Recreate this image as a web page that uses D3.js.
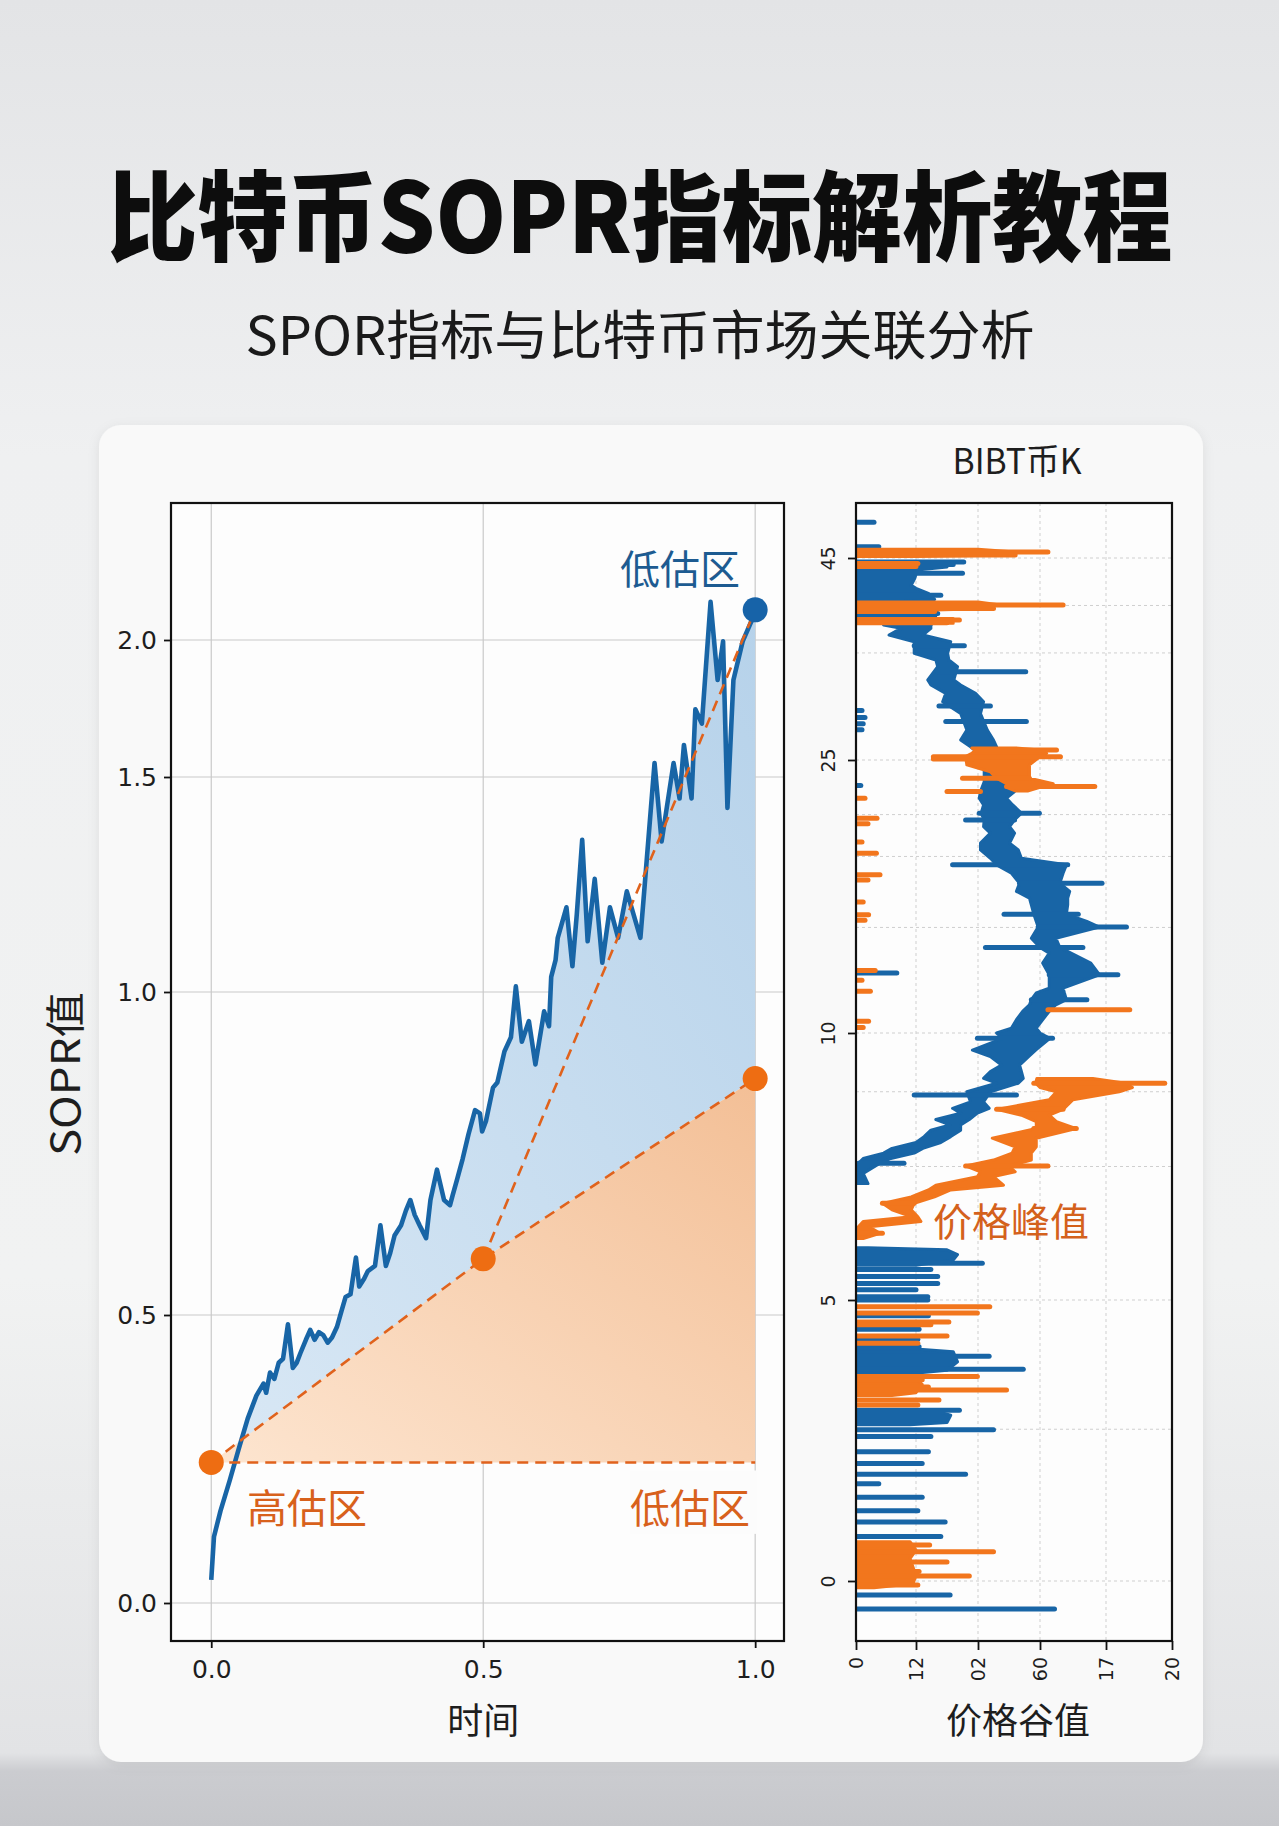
<!DOCTYPE html>
<html>
<head>
<meta charset="utf-8">
<script src="https://cdn.jsdelivr.net/npm/d3@7"></script>
<style>
  body { margin: 0; background: #e9eaec; }
  svg { display: block; }
</style>
</head>
<body>
<svg id="chart" width="1279" height="1826"></svg>
<script>
// ---------- left chart data ----------
var soprTicks = [0, 0.5, 1.0, 1.5, 2.0];
var timeTicks = [0, 0.5, 1.0];

// [time, SOPR]
var soprLine = [
  [0.000,0.040],[0.005,0.115],[0.017,0.160],[0.034,0.213],[0.050,0.266],[0.067,0.320],[0.083,0.360],
  [0.096,0.381],[0.101,0.365],[0.108,0.400],[0.116,0.389],[0.124,0.417],[0.132,0.424],[0.141,0.484],
  [0.150,0.408],[0.157,0.417],[0.164,0.434],[0.174,0.457],[0.182,0.474],[0.190,0.457],[0.198,0.470],
  [0.206,0.465],[0.214,0.452],[0.222,0.461],[0.231,0.479],[0.239,0.505],[0.247,0.528],[0.256,0.532],
  [0.266,0.589],[0.272,0.544],[0.281,0.556],[0.288,0.568],[0.301,0.576],[0.311,0.639],[0.321,0.576],
  [0.329,0.596],[0.337,0.623],[0.349,0.639],[0.358,0.662],[0.366,0.678],[0.374,0.655],[0.383,0.639],
  [0.395,0.619],[0.403,0.678],[0.415,0.725],[0.428,0.678],[0.439,0.670],[0.444,0.686],[0.452,0.710],
  [0.462,0.741],[0.473,0.780],[0.485,0.817],[0.494,0.812],[0.498,0.784],[0.505,0.800],[0.518,0.852],
  [0.526,0.860],[0.539,0.908],[0.551,0.930],[0.560,1.013],[0.571,0.923],[0.584,0.955],[0.596,0.888],
  [0.612,0.970],[0.621,0.947],[0.625,1.035],[0.633,1.074],[0.637,1.126],[0.653,1.197],[0.664,1.060],
  [0.672,1.180],[0.682,1.354],[0.692,1.118],[0.705,1.263],[0.719,1.068],[0.733,1.197],[0.748,1.126],
  [0.764,1.234],[0.789,1.126],[0.797,1.250],[0.815,1.551],[0.828,1.350],[0.850,1.551],[0.861,1.450],
  [0.869,1.617],[0.883,1.450],[0.890,1.747],[0.902,1.695],[0.918,2.139],[0.931,1.854],[0.941,1.995],
  [0.949,1.428],[0.960,1.854],[0.977,1.995],[0.994,2.073]
];
var blueDot = [1.0, 2.11];
var orangeDots = [[0.0, 0.244], [0.5, 0.587], [1.0, 0.866]];

// ---------- right chart data ----------
var priceTicks = [45, 25, 10, 5, 0];
var priceGrid = [45, 40.3, 35.6, 25, 22, 19.7, 15.8, 10, 8.9, 7.5, 5, 2.7, 0];
var valleyTicks = [0, 1, 2, 3, 4, 5];
var valleyLabels = ["0", "12", "02", "60", "17", "20"];

// bodies: [price, from, to]
var blueBlocks = [
  [[44.1,0,1.5],[43.8,0,1.02],[43.0,0,0.98],[42.3,0,0.92],[42.0,0,1.0],[41.5,0,1.2],[40.9,0,1.3],[40.7,0,0.8]],
  [[5.98,0,0.2],[5.94,0,1.5],[5.85,0,1.67],[5.75,0,1.6],[5.65,0,1.0]],
  [[4.13,0,1.0],[4.08,0,1.6],[3.9,0,1.67],[3.75,0,1.5],[3.68,0,0.8]],
  [[3.0,0,1.4],[2.95,0,1.56],[2.82,0,1.5],[2.78,0,0.9]]
];
var blueCurve = [
  [38.7,0.5,1.3],[38.36,0.46,1.24],[38.03,0.75,1.24],[37.37,0.55,1.11],[36.71,0.97,1.56],[35.56,0.97,1.51],
  [34.9,1.32,1.53],[34.24,1.35,1.67],[32.92,1.19,1.61],[32.43,1.24,1.72],[31.6,1.48,1.96],[30.77,1.43,2.09],
  [29.6,1.72,2.04],[27.97,1.82,2.15],[26.98,1.72,2.25],[26.3,1.88,2.3],[25.7,2.0,2.3],[25.0,2.05,2.4],
  [24.5,2.1,2.45],[23.8,2.1,2.5],[23.27,2.04,2.59],[22.9,2.02,2.46],[22.53,2.09,2.56],[22.08,2.05,2.7],
  [21.71,2.1,2.59],[21.34,2.09,2.51],[20.98,2.2,2.59],[20.43,2.04,2.51],[20.06,2.04,2.65],[19.6,2.2,2.7],
  [19.24,2.3,3.4],[18.78,2.54,3.35],[18.23,2.67,3.3],[17.78,2.62,3.45],[17.41,2.83,3.42],[17.04,2.86,3.42],
  [16.53,2.9,3.4],[16.13,2.94,3.71],[15.82,2.97,3.9],[15.21,2.86,3.24],[14.7,3.0,3.3],[14.39,3.14,3.47],
  [13.84,3.04,3.77],[13.2,3.14,3.9],[12.47,3.14,3.35],[12.2,2.94,3.37],[11.83,2.86,3.4],[11.55,2.83,3.24],
  [11.19,2.72,3.14],[10.73,2.62,3.04],[10.27,2.54,2.94],[10.0,2.3,3.0],[9.9,2.4,3.15],[9.68,1.91,2.93],
  [9.56,2.2,2.82],[9.4,2.38,2.67],[9.28,2.2,2.7],[9.15,2.09,2.73],[9.06,2.3,2.65],[8.9,1.82,2.2],
  [8.71,1.88,2.09],[8.59,1.59,2.18],[8.5,1.72,1.99],[8.38,1.32,1.86],[8.28,1.55,1.72],[8.18,1.24,1.72],
  [8.06,1.13,1.56],[7.95,1.0,1.4],[7.84,0.6,1.11],[7.75,0.46,0.97],[7.65,0.12,0.58],[7.56,0.04,0.4],
  [7.37,0.0,0.12],[7.18,0.0,0.2]
];
// spikes: [price, from, to]
var blueSpikes = [
  [48.5,0,0.3],[46.1,0,0.38],[44.6,0,1.77],[44.35,0,1.6],[43.5,0,1.75],[41.3,0,1.4],[39.5,0,1.35],[39.2,0,1.3],
  [36.32,0.97,1.78],[33.75,1.35,2.77],[30.35,1.37,2.2],[28.8,1.48,2.78],
  [22.08,2.02,2.99],[21.71,1.8,2.59],[19.24,1.59,3.42],[18.23,2.67,3.94],[16.53,2.42,3.58],[15.82,2.97,4.31],
  [14.7,2.12,3.65],[13.2,3.14,4.18],[11.83,2.86,3.71],[9.9,1.99,3.19],[8.84,0.97,2.62],[7.56,0.04,0.8],
  [29.9,0,0.1],[29.2,0,0.15],[28.6,0,0.12],[28.0,0,0.1],[23.6,0,0.08],[13.3,0,0.68],
  [5.69,0,2.07],[5.57,0,1.24],[5.44,0,1.35],[5.31,0,1.35],[5.19,0,1.0],[5.06,0,1.19],[5.0,0,1.19],
  [4.72,0,1.2],[4.48,0,1.05],[4.3,0,1.03],[4.17,0,1.05],[4.0,0,2.18],[3.77,0,2.73],[3.04,0,1.7],
  [2.69,0,2.25],[2.57,0,1.24],[2.3,0,1.2],[2.09,0,1.1],[1.9,0,1.8],[1.73,0,0.38],[1.49,0,1.1],
  [1.25,0,1.03],[1.05,0,1.47],[0.79,0,1.4],[-0.25,0,1.55],[-0.5,0,3.22]
];
var orangeBlocks = [
  [[45.85,0,2.0],[45.6,0,2.6],[45.3,0,2.5],[45.15,0,1.0]],
  [[40.65,0,2.0],[40.4,0,2.3],[40.0,0,2.2],[39.8,0,1.0]],
  [[39.0,0,1.6],[38.55,0,1.6]],
  [[3.6,0,1.0],[3.5,0,1.1],[3.35,0,1.0],[3.3,0,0.6]],
  [[0.7,0,0.9],[0.55,0,1.0],[0.4,0,0.9],[0.25,0,0.95],[0.1,0,1.0],[-0.05,0,0.95],[-0.12,0,0.3]]
];
var orangeMid = [
  [26.2,1.9,2.6],[25.99,1.96,3.0],[25.66,1.9,3.1],[25.33,1.8,3.0],[24.73,1.82,2.83],[24.35,2.2,2.83],
  [24.0,2.3,2.83],[23.7,2.46,3.2],[23.5,2.46,3.0],[23.3,2.6,2.8]
];
var orangeCurve = [
  [9.15,2.95,3.8],[9.06,2.93,4.3],[8.98,3.0,4.4],[8.9,3.25,4.2],[8.75,3.14,3.5],[8.57,2.3,3.35],
  [8.46,2.7,3.14],[8.34,2.94,3.25],[8.21,2.94,3.55],[8.03,2.23,2.94],[7.87,2.6,2.94],[7.75,2.55,2.86],
  [7.62,2.25,2.86],[7.51,1.8,2.5],[7.4,2.04,2.6],[7.31,1.99,2.25],[7.15,1.32,2.41],[7.06,1.2,1.56],
  [6.93,0.92,1.3],[6.81,0.44,0.97],[6.69,0.6,0.92],[6.56,0.92,1.03],[6.47,0.12,1.08],[6.37,0.04,0.22],
  [6.25,0,0.4],[6.15,0,0.12]
];
var orangeSpikes = [
  [45.6,0,3.12],[45.3,0,2.6],[44.45,0,1.03],[44.15,0,1.0],[40.34,0,3.35],[40.0,0,2.25],[39.7,0,1.3],
  [38.85,0,1.7],[38.6,0,1.5],
  [25.99,1.96,3.25],[25.33,1.28,3.31],[25.1,1.28,1.9],[24.0,1.75,2.83],[23.55,2.46,3.83],[23.27,1.5,2.04],
  [11.28,3.12,4.36],
  [22.9,0,0.15],[21.8,0,0.35],[21.5,0,0.2],[20.5,0,0.1],[19.88,0,0.34],[18.69,0,0.4],[18.4,0,0.2],
  [17.2,0,0.12],[16.5,0,0.21],[16.2,0,0.15],[13.44,0,0.32],[12.9,0,0.1],[12.29,0,0.24],[10.64,0,0.21],[10.3,0,0.12],
  [9.06,2.9,4.89],[8.57,2.3,3.35],[8.21,2.9,3.55],[7.51,1.8,3.12],[6.81,0.44,0.97],[6.25,0,0.44],
  [4.88,0,2.19],[4.77,0,1.99],[4.61,0,1.53],[4.56,0,1.24],[4.36,0,1.5],[4.23,0,1.03],[3.64,0,1.99],
  [3.58,0,1.1],[3.45,0,1.2],[3.4,0,2.46],[3.22,0,1.37],[3.13,0,1.03],
  [0.64,0,1.22],[0.52,0,2.25],[0.34,0,1.5],[0.17,0,1.05],[0.09,0,1.86],[-0.07,0,1.03]
];

var BLUE = "#1865a6", ORANGE = "#f2761d";
var CJK = "'Noto Sans CJK SC', 'Noto Sans', sans-serif";
var NUM = "'DejaVu Sans', sans-serif";

var svg = d3.select("#chart");
var defs = svg.append("defs");

// ---------- background ----------
var bg = defs.append("linearGradient").attr("id", "bg").attr("x1", 0).attr("y1", 0).attr("x2", 0).attr("y2", 1);
bg.append("stop").attr("offset", "0").attr("stop-color", "#e3e4e6");
bg.append("stop").attr("offset", "0.25").attr("stop-color", "#eff0f1");
bg.append("stop").attr("offset", "0.7").attr("stop-color", "#f1f2f2");
bg.append("stop").attr("offset", "0.96").attr("stop-color", "#e2e3e5");
bg.append("stop").attr("offset", "0.97").attr("stop-color", "#cbccd0");
bg.append("stop").attr("offset", "1").attr("stop-color", "#c6c7cb");
svg.append("rect").attr("width", 1279).attr("height", 1826).attr("fill", "url(#bg)");

var shadow = defs.append("filter").attr("id", "shadow").attr("x", "-5%").attr("y", "-5%").attr("width", "110%").attr("height", "110%");
shadow.append("feDropShadow").attr("dx", 0).attr("dy", 3).attr("stdDeviation", 6)
  .attr("flood-color", "#000").attr("flood-opacity", 0.08);

svg.append("rect")
  .attr("x", 99).attr("y", 425).attr("width", 1104).attr("height", 1337)
  .attr("rx", 22).attr("fill", "#f9f9f9").attr("filter", "url(#shadow)");

// ---------- titles ----------
svg.append("text")
  .attr("x", 640).attr("y", 253)
  .attr("text-anchor", "middle")
  .attr("textLength", 1065).attr("lengthAdjust", "spacingAndGlyphs")
  .style("font-family", CJK).style("font-weight", 900).style("font-size", "98px")
  .attr("fill", "#0d0d0d")
  .text("比特币SOPR指标解析教程");

svg.append("text")
  .attr("x", 640).attr("y", 355)
  .attr("text-anchor", "middle")
  .attr("textLength", 789).attr("lengthAdjust", "spacingAndGlyphs")
  .style("font-family", CJK).style("font-weight", 400).style("font-size", "53px")
  .attr("fill", "#1a1a1a")
  .text("SPOR指标与比特币市场关联分析");

// ---------- left chart ----------
var L = { left: 171, right: 784, top: 503, bottom: 1641 };
var xL = d3.scaleLinear().domain([-0.074, 1.053]).range([L.left, L.right]);
var yL = d3.scaleLinear()
  .domain([-0.066, 0, 0.5, 1.0, 1.5, 2.0, 2.5])
  .range([1641, 1603, 1315, 992, 777, 640, 503]);

defs.append("clipPath").attr("id", "clipL").append("rect")
  .attr("x", L.left).attr("y", L.top).attr("width", L.right - L.left).attr("height", L.bottom - L.top);

var left = svg.append("g");
left.append("rect")
  .attr("x", L.left).attr("y", L.top).attr("width", L.right - L.left).attr("height", L.bottom - L.top)
  .attr("fill", "#fdfdfd");

left.selectAll(".hgrid").data(soprTicks).enter().append("line")
  .attr("x1", L.left).attr("x2", L.right)
  .attr("y1", d => yL(d)).attr("y2", d => yL(d))
  .attr("stroke", "#c9c9c9").attr("stroke-width", 1.2);
left.selectAll(".vgrid").data(timeTicks).enter().append("line")
  .attr("y1", L.top).attr("y2", L.bottom)
  .attr("x1", d => xL(d)).attr("x2", d => xL(d))
  .attr("stroke", "#c9c9c9").attr("stroke-width", 1.2);

var fills = left.append("g").attr("clip-path", "url(#clipL)");

var blueGrad = defs.append("linearGradient").attr("id", "blueFill").attr("x1", 0).attr("y1", 1).attr("x2", 1).attr("y2", 0);
blueGrad.append("stop").attr("offset", "0").attr("stop-color", "#d9e8f5");
blueGrad.append("stop").attr("offset", "1").attr("stop-color", "#b6d2ea");
var orangeGrad = defs.append("linearGradient").attr("id", "orangeFill").attr("x1", 0).attr("y1", 1).attr("x2", 1).attr("y2", 0);
orangeGrad.append("stop").attr("offset", "0").attr("stop-color", "#fde5d0");
orangeGrad.append("stop").attr("offset", "1").attr("stop-color", "#f3bf96");

// orange boundary between the dots
var boundary = d3.scaleLinear().domain(orangeDots.map(d => d[0])).range(orangeDots.map(d => d[1]));
var blueArea = d3.area()
  .x(d => xL(d[0]))
  .y0(d => yL(boundary(d[0])))
  .y1(d => yL(Math.max(d[1], boundary(d[0]))));
fills.append("path").datum(soprLine.concat([blueDot]))
  .attr("d", blueArea).attr("fill", "url(#blueFill)");

var orangeArea = d3.area()
  .x(d => xL(d[0]))
  .y0(yL(orangeDots[0][1]))
  .y1(d => yL(d[1]));
fills.append("path").datum(orangeDots)
  .attr("d", orangeArea).attr("fill", "url(#orangeFill)");

var lineL = d3.line().x(d => xL(d[0])).y(d => yL(d[1]));

// label box that hides the grid near the lower-right label
left.append("rect")
  .attr("x", xL(0.77)).attr("y", yL(0.23)).attr("width", xL(1.0) - xL(0.77) + 2).attr("height", yL(0.12) - yL(0.23))
  .attr("fill", "#fcfcfc");

left.append("path").datum(soprLine.concat([blueDot]))
  .attr("d", lineL).attr("fill", "none")
  .attr("stroke", BLUE).attr("stroke-width", 4.6)
  .attr("stroke-linejoin", "round");

var dash = { stroke: "#e0621c", width: 2.6, array: "11,7" };
[orangeDots, [orangeDots[1], blueDot], [orangeDots[0], [1.0, orangeDots[0][1]]]].forEach(function(seg) {
  left.append("path").datum(seg)
    .attr("d", lineL).attr("fill", "none")
    .attr("stroke", dash.stroke).attr("stroke-width", dash.width)
    .attr("stroke-dasharray", dash.array);
});

left.selectAll(".odot").data(orangeDots).enter().append("circle")
  .attr("cx", d => xL(d[0])).attr("cy", d => yL(d[1])).attr("r", 12.5)
  .attr("fill", "#ee6d12");
left.append("circle")
  .attr("cx", xL(blueDot[0])).attr("cy", yL(blueDot[1])).attr("r", 12.5)
  .attr("fill", "#1763a8");

left.append("rect")
  .attr("x", L.left).attr("y", L.top).attr("width", L.right - L.left).attr("height", L.bottom - L.top)
  .attr("fill", "none").attr("stroke", "#111").attr("stroke-width", 2.2);

var yAxisL = left.append("g")
  .attr("transform", "translate(" + L.left + ",0)")
  .call(d3.axisLeft(yL).tickValues(soprTicks).tickFormat(d3.format(".1f")).tickSize(7).tickPadding(7));
var xAxisL = left.append("g")
  .attr("transform", "translate(0," + L.bottom + ")")
  .call(d3.axisBottom(xL).tickValues(timeTicks).tickFormat(d3.format(".1f")).tickSize(7).tickPadding(12));
[yAxisL, xAxisL].forEach(function(ax) {
  ax.select(".domain").remove();
  ax.selectAll("line").attr("stroke", "#111").attr("stroke-width", 1.8);
  ax.selectAll("text").style("font-family", NUM).style("font-size", "25px").attr("fill", "#1e1e1e");
});

left.append("text")
  .attr("transform", "translate(80,1074) rotate(-90)")
  .attr("text-anchor", "middle")
  .attr("textLength", 164).attr("lengthAdjust", "spacingAndGlyphs")
  .style("font-family", CJK).style("font-size", "40px").attr("fill", "#1e1e1e")
  .text("SOPR值");
left.append("text")
  .attr("x", xL(0.5)).attr("y", 1734)
  .attr("text-anchor", "middle")
  .style("font-family", CJK).style("font-size", "36px").attr("fill", "#1e1e1e")
  .text("时间");

left.append("text")
  .attr("x", 680).attr("y", 584).attr("text-anchor", "middle")
  .style("font-family", CJK).style("font-size", "40px").attr("fill", "#1d5b91")
  .text("低估区");
left.append("text")
  .attr("x", 307).attr("y", 1523).attr("text-anchor", "middle")
  .style("font-family", CJK).style("font-size", "40px").attr("fill", "#d8611c")
  .text("高估区");
left.append("text")
  .attr("x", 690).attr("y", 1523).attr("text-anchor", "middle")
  .style("font-family", CJK).style("font-size", "40px").attr("fill", "#d8611c")
  .text("低估区");

// ---------- right chart ----------
var R = { left: 856, right: 1172, top: 503, bottom: 1641 };
var xR = d3.scaleLinear().domain(valleyTicks).range([856, 916, 978, 1040, 1106, 1172]);
var yR = d3.scaleLinear()
  .domain([-1.07, 0, 5, 10, 25, 45, 50.4])
  .range([1641, 1581, 1300, 1033, 760, 558, 503]);

defs.append("clipPath").attr("id", "clipR").append("rect")
  .attr("x", R.left).attr("y", R.top).attr("width", R.right - R.left).attr("height", R.bottom - R.top);

var right = svg.append("g");
right.append("rect")
  .attr("x", R.left).attr("y", R.top).attr("width", R.right - R.left).attr("height", R.bottom - R.top)
  .attr("fill", "#fdfdfd");

right.selectAll(".hgrid").data(priceGrid).enter().append("line")
  .attr("x1", R.left).attr("x2", R.right)
  .attr("y1", d => yR(d)).attr("y2", d => yR(d))
  .attr("stroke", "#cfcfcf").attr("stroke-width", 1).attr("stroke-dasharray", "3,3");
right.selectAll(".vgrid").data(valleyTicks.slice(1, 5)).enter().append("line")
  .attr("y1", R.top).attr("y2", R.bottom)
  .attr("x1", d => xR(d)).attr("x2", d => xR(d))
  .attr("stroke", "#cfcfcf").attr("stroke-width", 1).attr("stroke-dasharray", "3,3");

var marks = right.append("g").attr("clip-path", "url(#clipR)");
var bodyArea = d3.area()
  .y(d => yR(d[0]))
  .x0(d => xR(d[1]))
  .x1(d => xR(d[2]));

function drawSeries(blocks, spikes, color) {
  marks.append("g").selectAll("path").data(blocks).enter().append("path")
    .attr("d", bodyArea)
    .attr("fill", color).attr("stroke", color).attr("stroke-width", 3)
    .attr("stroke-linejoin", "round");
  marks.append("g").selectAll("line").data(spikes).enter().append("line")
    .attr("x1", d => xR(d[1])).attr("x2", d => xR(d[2]))
    .attr("y1", d => yR(d[0])).attr("y2", d => yR(d[0]))
    .attr("stroke", color).attr("stroke-width", 5).attr("stroke-linecap", "round");
}
drawSeries(blueBlocks.concat([blueCurve]), blueSpikes, BLUE);
drawSeries(orangeBlocks.concat([orangeMid, orangeCurve]), orangeSpikes, ORANGE);

right.append("rect")
  .attr("x", R.left).attr("y", R.top).attr("width", R.right - R.left).attr("height", R.bottom - R.top)
  .attr("fill", "none").attr("stroke", "#111").attr("stroke-width", 2.2);

var yAxisR = right.append("g")
  .attr("transform", "translate(" + R.left + ",0)")
  .call(d3.axisLeft(yR).tickValues(priceTicks).tickFormat(d3.format("d")).tickSize(8));
yAxisR.selectAll("text")
  .attr("x", null).attr("dy", null)
  .attr("text-anchor", "middle")
  .attr("transform", "translate(-21,0) rotate(-90)");

var xAxisR = right.append("g")
  .attr("transform", "translate(0," + R.bottom + ")")
  .call(d3.axisBottom(xR).tickValues(valleyTicks).tickFormat((d, i) => valleyLabels[i]).tickSize(9));
xAxisR.selectAll("text")
  .attr("y", null).attr("dy", null)
  .attr("text-anchor", "end")
  .attr("transform", "translate(6,16) rotate(-90)");

[yAxisR, xAxisR].forEach(function(ax) {
  ax.select(".domain").remove();
  ax.selectAll("line").attr("stroke", "#111").attr("stroke-width", 1.8);
  ax.selectAll("text").style("font-family", NUM).style("font-size", "19px").attr("fill", "#1e1e1e");
});

right.append("text")
  .attr("x", 1017).attr("y", 474).attr("text-anchor", "middle")
  .attr("textLength", 129).attr("lengthAdjust", "spacingAndGlyphs")
  .style("font-family", CJK).style("font-size", "35px").attr("fill", "#1e1e1e")
  .text("BIBT币K");
right.append("text")
  .attr("x", 1018).attr("y", 1734).attr("text-anchor", "middle")
  .style("font-family", CJK).style("font-size", "36px").attr("fill", "#1e1e1e")
  .text("价格谷值");
right.append("text")
  .attr("x", 1011).attr("y", 1236).attr("text-anchor", "middle")
  .style("font-family", CJK).style("font-size", "39px").attr("fill", "#d4611c")
  .text("价格峰值");
</script>
</body>
</html>
